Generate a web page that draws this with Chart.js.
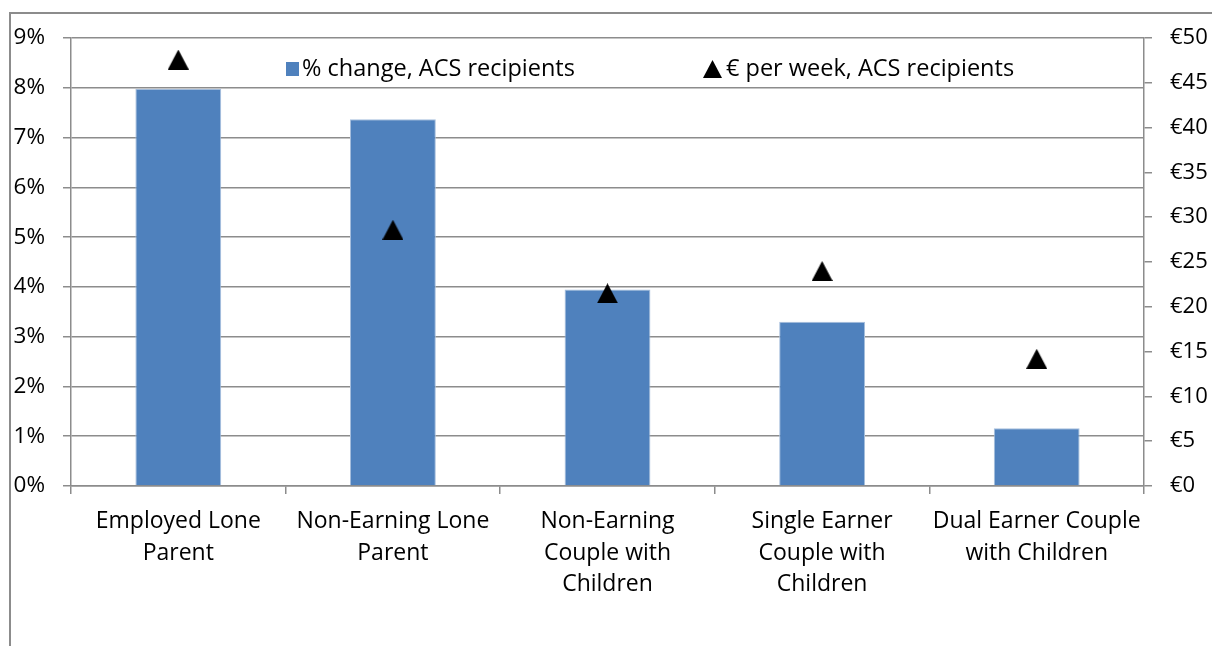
<!DOCTYPE html>
<html>
<head>
<meta charset="utf-8">
<script src="https://cdn.jsdelivr.net/npm/chart.js@4.4.0/dist/chart.umd.min.js"></script>
<style>
  body { margin: 0; background: #fff; }
  #wrap { position: relative; width: 1212px; height: 646px; }
  #frame { position: absolute; left: 9px; top: 12px; right: -5px; bottom: -5px;
           border-top: 2px solid #8c8c8c; border-left: 2px solid #8c8c8c; }
  canvas { position: absolute; left: 0; top: 0; }
</style>
</head>
<body>
<div id="wrap">
  <div id="frame"></div>
  <canvas id="grafico" width="1212" height="646"></canvas>
</div>
<script>
// categorias y valores
const categorias = [
    ["Employed Lone", "Parent"],
    ["Non-Earning Lone", "Parent"],
    ["Non-Earning", "Couple with", "Children"],
    ["Single Earner", "Couple with", "Children"],
    ["Dual Earner Couple", "with Children"]
];
const pctCambio = [7.98, 7.37, 3.95, 3.30, 1.16];     // % change, ACS recipients
const eurosSemana = [47.6, 28.6, 21.5, 24.0, 14.2];   // € per week, ACS recipients
const ticksPct = [0, 1, 2, 3, 4, 5, 6, 7, 8, 9];
const ticksEur = [0, 5, 10, 15, 20, 25, 30, 35, 40, 45, 50];

const FUENTE = "Open Sans";
const GRIS = "#8c8c8c";
const AZUL = "#4f81bd";

// triangulo negro como marcador
function hacerTriangulo(w, h) {
    const c = document.createElement("canvas");
    c.width = w; c.height = h;
    const ctx = c.getContext("2d");
    ctx.fillStyle = "#000";
    ctx.beginPath();
    ctx.moveTo(w / 2, 0);
    ctx.lineTo(w, h);
    ctx.lineTo(0, h);
    ctx.closePath();
    ctx.fill();
    return c;
}
const triangulo = hacerTriangulo(21, 20);
const trianguloChico = hacerTriangulo(19, 18);

// leyenda dentro del area de grafico
const leyenda = {
    id: "leyendaInterna",
    afterDatasetsDraw(chart) {
        const ctx = chart.ctx;
        const area = chart.chartArea;
        const y = area.top + 31;
        ctx.save();
        ctx.font = "23.5px " + FUENTE;
        ctx.textBaseline = "middle";
        ctx.fillStyle = AZUL;
        ctx.fillRect(area.left + 215, y - 7, 13, 14);
        ctx.fillStyle = "#000";
        ctx.fillText(chart.data.datasets[0].label, area.left + 231, y);
        ctx.drawImage(trianguloChico, area.left + 632, y - 9);
        ctx.fillText(chart.data.datasets[1].label, area.left + 655, y);
        ctx.restore();
    }
};

new Chart(document.getElementById("grafico"), {
    type: "bar",
    data: {
        labels: categorias,
        datasets: [
            {
                label: "% change, ACS recipients",
                data: pctCambio,
                backgroundColor: AZUL,
                borderColor: "#a7bfdd",
                borderWidth: 1,
                categoryPercentage: 1,
                barPercentage: 0.4,
                yAxisID: "y",
                order: 2
            },
            {
                type: "line",
                label: "€ per week, ACS recipients",
                data: eurosSemana,
                showLine: false,
                pointStyle: triangulo,
                pointRadius: 10,
                yAxisID: "y1",
                order: 1
            }
        ]
    },
    options: {
        responsive: false,
        animation: false,
        layout: { padding: { top: 38, left: 0, right: 0, bottom: 0 } },
        plugins: {
            legend: { display: false },
            tooltip: { enabled: false }
        },
        scales: {
            x: {
                offset: true,
                grid: {
                    offset: true,
                    drawOnChartArea: false,
                    color: GRIS,
                    lineWidth: 1.5,
                    tickLength: 8
                },
                border: { color: GRIS, width: 1.5 },
                ticks: {
                    color: "#000",
                    font: { family: FUENTE, size: 23, lineHeight: 1.39 },
                    padding: 11,
                    maxRotation: 0,
                    autoSkip: false
                },
                afterFit: s => { s.height = 160; }
            },
            y: {
                position: "left",
                min: 0,
                max: 9,
                afterBuildTicks: s => { s.ticks = ticksPct.map(v => ({ value: v })); },
                grid: { color: GRIS, lineWidth: 1.5, tickLength: 8 },
                border: { color: GRIS, width: 1.5 },
                ticks: {
                    color: "#000",
                    font: { family: FUENTE, size: 22.5 },
                    padding: 18,
                    callback: v => v + "%"
                },
                afterFit: s => { s.width = 71; }
            },
            y1: {
                position: "right",
                min: 0,
                max: 50,
                afterBuildTicks: s => { s.ticks = ticksEur.map(v => ({ value: v })); },
                grid: { drawOnChartArea: false, color: GRIS, lineWidth: 1.5, tickLength: 8 },
                border: { color: GRIS, width: 1.5 },
                ticks: {
                    color: "#000",
                    font: { family: FUENTE, size: 22 },
                    padding: 18,
                    callback: v => "€" + v
                },
                afterFit: s => { s.width = 68; }
            }
        }
    },
    plugins: [leyenda]
});
</script>
</body>
</html>
